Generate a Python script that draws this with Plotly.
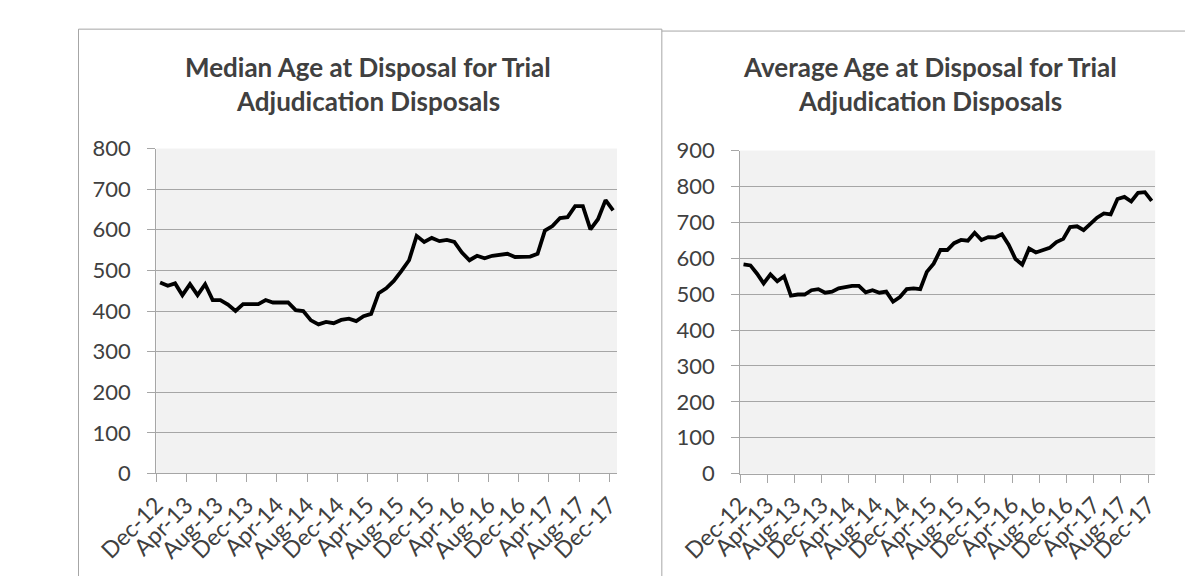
import plotly.graph_objects as go
import pandas as pd

# Monthly periods Dec-12 .. Dec-17 (61 months)
months = pd.date_range("2012-12-01", "2017-12-01", freq="MS")

median_age = [470, 462, 468, 439, 466, 439, 466, 427, 427, 416,
              400, 417, 417, 417, 427, 421, 421, 421, 402, 400,
              377, 367, 373, 370, 378, 381, 375, 387, 393, 444,
              456, 474, 499, 525, 585, 570, 580, 572, 575, 570,
              544, 525, 536, 530, 536, 539, 541, 533, 534, 534,
              541, 598, 609, 629, 631, 658, 658, 601, 626, 673,
              648]

average_age = [583, 580, 557, 530, 555, 536, 550, 496, 499, 499,
               511, 514, 504, 507, 516, 519, 523, 523, 505, 511,
               504, 507, 479, 492, 514, 516, 514, 562, 585, 623,
               623, 642, 651, 649, 671, 651, 659, 658, 667, 638,
               598, 582, 627, 616, 622, 629, 645, 654, 687, 689,
               678, 696, 713, 725, 722, 765, 771, 758, 782, 784,
               760]

titles = [("Median Age at Disposal for Trial", "Adjudication Disposals"),
          ("Average Age at Disposal for Trial", "Adjudication Disposals")]

W, H = 1193, 581
GRID = "#a6a6a6"
TXT = "#404040"
FONT = "Lato"


def px(x):
    return x / W


def py(y):
    return 1 - y / H


fig = go.Figure()

fig.add_trace(go.Scatter(x=months, y=median_age, mode="lines",
                         xperiod="M1", xperiodalignment="middle",
                         line=dict(color="black", width=3.8),
                         xaxis="x", yaxis="y", showlegend=False))
fig.add_trace(go.Scatter(x=months, y=average_age, mode="lines",
                         xperiod="M1", xperiodalignment="middle",
                         line=dict(color="black", width=3.8),
                         xaxis="x2", yaxis="y2", showlegend=False))

xcommon = dict(type="date", range=["2012-12-01", "2018-01-01"],
               tick0="2012-12-01", dtick="M4", tickformat="%b-%y",
               tickangle=-45, showgrid=False, showline=True,
               linecolor=GRID, linewidth=1, ticks="outside", ticklen=8,
               tickcolor=GRID, tickfont=dict(family=FONT, size=23, color=TXT),
               zeroline=False, fixedrange=True)
ycommon = dict(showgrid=True, gridcolor=GRID, gridwidth=1, showline=True,
               linecolor=GRID, linewidth=1, ticks="outside", ticklen=8,
               tickcolor=GRID, dtick=100, zeroline=False,
               tickfont=dict(family=FONT, size=22, color=TXT),
               ticklabelstandoff=12, fixedrange=True)

fig.update_layout(
    width=W, height=H, margin=dict(l=0, r=0, t=0, b=0),
    paper_bgcolor="white", plot_bgcolor="#f2f2f2",
    xaxis=dict(domain=[px(91.3), px(579)], anchor="y", **xcommon),
    yaxis=dict(domain=[py(473.5), py(132.7)], anchor="x", range=[0, 800], **ycommon),
    xaxis2=dict(domain=[px(709.3), px(1148.7)], anchor="y2", **xcommon),
    yaxis2=dict(domain=[py(473.7), py(134.8)], anchor="x2", range=[0, 900], **ycommon),
)

# chart borders
border = dict(color=GRID, width=1)
shapes = [
    dict(type="line", xref="paper", yref="paper", x0=px(9), x1=px(9), y0=py(7.5), y1=0, line=border),
    dict(type="line", xref="paper", yref="paper", x0=px(9), x1=px(626.5), y0=py(7.5), y1=py(7.5), line=border),
    dict(type="line", xref="paper", yref="paper", x0=px(626.5), x1=px(626.5), y0=py(7.5), y1=0, line=border),
    dict(type="line", xref="paper", yref="paper", x0=px(626.5), x1=1, y0=py(9.5), y1=py(9.5), line=border),
]
fig.update_layout(shapes=shapes)

centers = [315, 910]
for (l1, l2), cx in zip(titles, centers):
    for txt, cy in ((l1, 47.5), (l2, 83)):
        fig.add_annotation(text=txt, xref="paper", yref="paper", x=px(cx), y=py(cy),
                           xanchor="center", yanchor="middle", showarrow=False,
                           font=dict(family=FONT, size=26, color=TXT, weight="bold"))

fig.write_html("out.html")
